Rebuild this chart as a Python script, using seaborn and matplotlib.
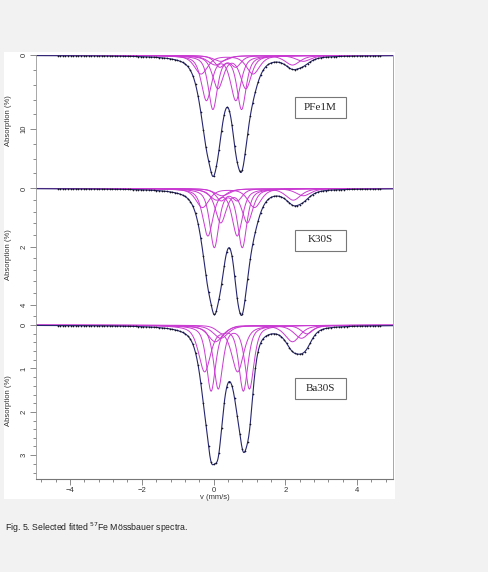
import numpy as np
import pandas as pd
import seaborn as sns
import matplotlib.pyplot as plt
from matplotlib.patches import Rectangle
from matplotlib.ticker import MultipleLocator

# campioni (dall'alto in basso)
samples = ["PFe1M", "K30S", "Ba30S"]

# doppietti: riga 1 / riga 2 (mm/s), profondita' (%), semilarghezza (mm/s)
pfe_line1 = [-0.02, -0.20, 0.12, -0.35, 0.17, 0.05, 0.20]
pfe_line2 = [0.78, 0.62, 0.90, 1.10, 0.62, 2.20, 2.50]
pfe_depth = [7.2, 6.0, 4.4, 2.5, 1.5, 1.3, 0.8]
pfe_width = [0.15, 0.17, 0.18, 0.22, 0.17, 0.25, 0.25]

k_line1 = [0.02, -0.16, 0.20, -0.31, 0.21, 0.09, 0.24]
k_line2 = [0.80, 0.66, 0.94, 1.14, 0.66, 2.22, 2.50]
k_depth = [2.0, 1.6, 1.15, 0.65, 0.4, 0.4, 0.25]
k_width = [0.15, 0.17, 0.18, 0.22, 0.17, 0.25, 0.25]

ba_line1 = [-0.07, 0.13, -0.25, 0.05, 0.20, 0.25]
ba_line2 = [0.83, 1.00, 0.67, 2.20, 2.45, 2.60]
ba_depth = [1.5, 1.45, 1.05, 0.38, 0.30, 0.20]
ba_width = [0.15, 0.15, 0.20, 0.25, 0.25, 0.20]

# assi
y_max = [17.7, 4.6, 3.55]
y_major = [10, 2, 1]
x_ticks = [-4, -2, 0, 2, 4]

fit_pars = [
    (pfe_line1, pfe_line2, pfe_depth, pfe_width),
    (k_line1, k_line2, k_depth, k_width),
    (ba_line1, ba_line2, ba_depth, ba_width),
]

v_fit = np.linspace(-4.95, 5.0, 800)
v_data = np.linspace(-4.35, 4.65, 125)
eta = 0.6  # frazione lorentziana del profilo


def riga(v, c, d, w):
    lor = w ** 2 / ((v - c) ** 2 + w ** 2)
    gau = np.exp(-np.log(2) * (v - c) ** 2 / w ** 2)
    return d * (eta * lor + (1 - eta) * gau)


def doublet(v, c1, c2, d, w):
    return riga(v, c1, d, w) + riga(v, c2, d, w)


sns.set_style("white")
plt.rcParams['font.family'] = ['Liberation Sans', 'DejaVu Sans']

W, H = 489, 572
fig = plt.figure(figsize=(W / 100, H / 100), dpi=100, facecolor='#f2f2f2')

# riquadro bianco della figura
fig.add_artist(Rectangle((4 / W, 1 - 499 / H), 391 / W, 447 / H,
                         transform=fig.transFigure, fc='white', ec='none', zorder=0))

# posizioni dei pannelli in pixel (alto, basso)
panels_px = [(55, 186), (187, 322), (323, 479)]
left, right = 36, 393

magenta = '#c93ad2'
navy = '#26266e'

for i, (name, (l1, l2, dep, wid)) in enumerate(zip(samples, fit_pars)):
    top, bot = panels_px[i]
    ax = fig.add_axes([left / W, 1 - bot / H, (right - left) / W, (bot - top) / H])
    ax.patch.set_alpha(0)

    total_fit = np.zeros_like(v_fit)
    total_data = np.zeros_like(v_data)
    for c1, c2, d, w in zip(l1, l2, dep, wid):
        comp = doublet(v_fit, c1, c2, d, w)
        total_fit += comp
        total_data += doublet(v_data, c1, c2, d, w)
        sns.lineplot(x=v_fit, y=comp, ax=ax, color=magenta, lw=0.7, sort=False)

    sns.lineplot(x=v_fit, y=total_fit, ax=ax, color=navy, lw=0.8, sort=False)
    df = pd.DataFrame({'v': v_data, 'abs': total_data})
    sns.scatterplot(data=df, x='v', y='abs', ax=ax, color='#15152a', s=1.5,
                    linewidth=0, zorder=5)

    ax.set_xlim(-4.95, 5.0)
    ax.set_ylim(y_max[i], -0.05)

    ax.yaxis.set_major_locator(MultipleLocator(y_major[i]))
    ax.yaxis.set_minor_locator(MultipleLocator(y_major[i] / 5))
    ax.tick_params(axis='y', which='both', left=True, direction='out', color='#777777',
                   width=0.6, labelsize=5.5, labelcolor='#333333', pad=2, labelrotation=90)
    ax.tick_params(axis='y', which='major', length=4)
    ax.tick_params(axis='y', which='minor', length=2.5)
    for lbl in ax.get_yticklabels():
        lbl.set_va('center')

    ax.set_ylabel('Absorption (%)', fontsize=5.5, color='#333333')
    ax.yaxis.set_label_coords(-0.068, 0.5)

    for s in ['top', 'bottom']:
        ax.spines[s].set_visible(False)
    for s in ['left', 'right']:
        ax.spines[s].set_color('#999999')
        ax.spines[s].set_linewidth(0.6)

    if i < 2:
        ax.set_xticks([])
        ax.set_xlabel('')
    else:
        ax.spines['bottom'].set_visible(True)
        ax.spines['bottom'].set_color('#777777')
        ax.spines['bottom'].set_linewidth(0.8)
        ax.set_xticks(x_ticks)
        ax.xaxis.set_minor_locator(MultipleLocator(0.4))
        ax.tick_params(axis='x', which='both', bottom=True, direction='out', color='#777777',
                       width=0.6, labelsize=5.5, labelcolor='#333333', pad=1.5)
        ax.tick_params(axis='x', which='major', length=4)
        ax.tick_params(axis='x', which='minor', length=2.5)
        ax.set_xlabel('v (mm/s)', fontsize=5.5, color='#333333', labelpad=0.5)

# etichette dei campioni nei riquadri
box_centers = [107.5, 240, 388.5]
for name, cy in zip(samples, box_centers):
    fig.add_artist(Rectangle((295 / W, 1 - (cy + 10.5) / H), 51 / W, 21 / H,
                             transform=fig.transFigure, fc='white', ec='#777777', lw=0.8, zorder=10))
    fig.text(320.5 / W, 1 - cy / H, name, fontsize=8, family='Liberation Serif',
             ha='center', va='center', zorder=11)

fig.text(5 / W, 1 - 528 / H, 'Fig. 5. Selected fitted $^{57}$Fe Mössbauer spectra.',
         fontsize=6.3, color='#222222', ha='left', va='center')

fig.savefig('out.png', dpi=100, facecolor=fig.get_facecolor())
